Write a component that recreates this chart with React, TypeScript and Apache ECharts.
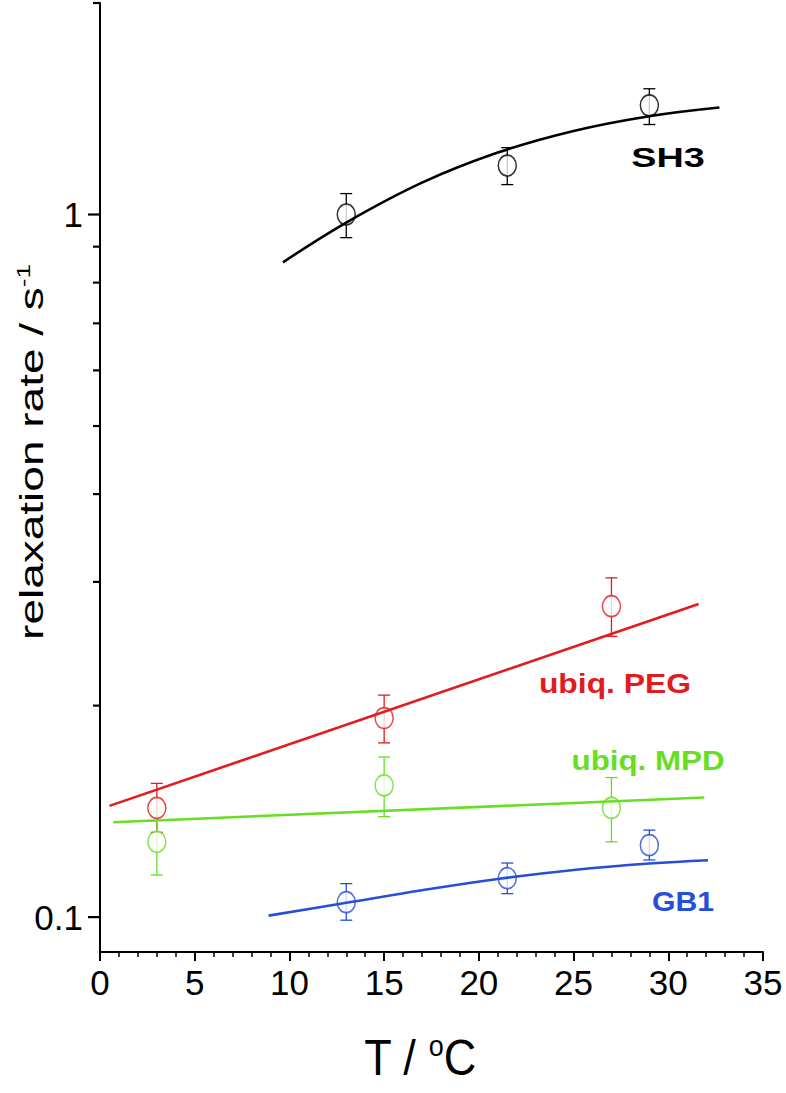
import React, { useEffect, useRef } from "react";
import * as echarts from "echarts";

// ---- data ----
const sh3T = [13, 21.5, 29];
const sh3R = [1.0, 1.174, 1.43];
const sh3Lo = [0.927, 1.103, 1.343];
const sh3Hi = [1.071, 1.245, 1.51];
const sh3FitT = [9.66, 13, 17, 21, 25, 29, 32.7];
const sh3FitR = [0.855, 0.974, 1.11, 1.225, 1.315, 1.38, 1.42];

const pegT = [3, 15, 27];
const pegR = [0.143, 0.192, 0.277];
const pegLo = [0.132, 0.177, 0.251];
const pegHi = [0.155, 0.207, 0.304];
const pegFitT = [0.5, 31.6];
const pegFitR = [0.144, 0.279];

const mpdT = [3, 15, 27];
const mpdR = [0.128, 0.154, 0.143];
const mpdLo = [0.1148, 0.139, 0.128];
const mpdHi = [0.141, 0.169, 0.158];
const mpdFitT = [0.7, 31.9];
const mpdFitR = [0.1365, 0.148];

const gb1T = [13, 21.5, 29];
const gb1R = [0.105, 0.1136, 0.1266];
const gb1Lo = [0.099, 0.108, 0.1206];
const gb1Hi = [0.1116, 0.1194, 0.133];
const gb1FitT = [8.9, 13, 17, 21, 25, 29, 32.1];
const gb1FitR = [0.1005, 0.1048, 0.1092, 0.1133, 0.1167, 0.1192, 0.1205];

const yMajorTicks = [0.1, 1];
const yMinorTicks = [0.2, 0.3, 0.4, 0.5, 0.6, 0.7, 0.8, 0.9, 2];

const COLORS = { sh3: "#000000", peg: "#e31b1e", mpd: "#66de22", gb1: "#274ed8" };

const FONT = '"Liberation Sans", Arial, sans-serif';
const ELLIPSE = "path://M0,-11A9,11 0 1,1 0,11A9,11 0 1,1 0,-11Z";

function pairs(t: number[], v: number[]) {
  return t.map((x, i) => [x, v[i]]);
}
function triples(t: number[], lo: number[], hi: number[]) {
  return t.map((x, i) => [x, lo[i], hi[i]]);
}

function groupSeries(name: string, color: string, t: number[], r: number[], lo: number[], hi: number[], fitT: number[], fitR: number[], smooth: boolean) {
  return [
    {
      name: name + " err",
      type: "custom",
      z: 2,
      clip: false,
      data: triples(t, lo, hi),
      encode: { x: 0, y: [1, 2] },
      renderItem: (params: any, api: any) => {
        const x = api.value(0);
        const top = api.coord([x, api.value(2)]);
        const bot = api.coord([x, api.value(1)]);
        const hw = 6;
        const style = { stroke: color, lineWidth: 1.3, fill: "none" };
        return {
          type: "group",
          children: [
            { type: "line", shape: { x1: top[0], y1: top[1], x2: bot[0], y2: bot[1] }, style },
            { type: "line", shape: { x1: top[0] - hw, y1: top[1], x2: top[0] + hw, y2: top[1] }, style },
            { type: "line", shape: { x1: bot[0] - hw, y1: bot[1], x2: bot[0] + hw, y2: bot[1] }, style },
          ],
        };
      },
    },
    {
      name: name,
      type: "scatter",
      z: 3,
      data: pairs(t, r),
      symbol: ELLIPSE,
      symbolSize: [18, 21],
      itemStyle: { color: "#ffffff", borderColor: color, borderWidth: 1.6 },
    },
    {
      name: name + " fit",
      type: "line",
      z: 4,
      data: pairs(fitT, fitR),
      showSymbol: false,
      symbol: "none",
      smooth: smooth ? 0.4 : false,
      lineStyle: { color, width: 2.6 },
    },
  ];
}

function yTickSeries(values: number[], len: number) {
  return {
    type: "custom",
    z: 5,
    clip: false,
    silent: true,
    data: values.map((v) => [0, v]),
    encode: { x: 0, y: 1 },
    renderItem: (params: any, api: any) => {
      const p = api.coord([api.value(0), api.value(1)]);
      return {
        type: "line",
        shape: { x1: p[0] - len, y1: p[1], x2: p[0], y2: p[1] },
        style: { stroke: "#000", lineWidth: 2.2 },
      };
    },
  };
}

export default function App() {
  const ref = useRef<HTMLDivElement>(null);
  useEffect(() => {
    if (!ref.current) return;
    const chart = echarts.init(ref.current, null, { renderer: "svg" });
    const labelStyle = { fontFamily: FONT, fontWeight: "bold", fontSize: 27 };
    chart.setOption({
      animation: false,
      backgroundColor: "#ffffff",
      grid: { left: 100, top: 3, width: 663, height: 949, containLabel: false },
      xAxis: {
        type: "value",
        min: 0,
        max: 35,
        interval: 5,
        axisLine: { show: true, lineStyle: { color: "#000", width: 2 } },
        axisTick: { show: true, inside: false, length: 9, lineStyle: { color: "#000", width: 2 } },
        minorTick: { show: true, splitNumber: 5, length: 5, lineStyle: { color: "#000", width: 1.5 } },
        splitLine: { show: false },
        minorSplitLine: { show: false },
        axisLabel: { fontSize: 35, fontFamily: FONT, color: "#000", margin: 13 },
      },
      yAxis: {
        type: "log",
        logBase: 10,
        min: 0.0892,
        max: 2.0,
        splitLine: { show: false },
        minorSplitLine: { show: false },
        axisLine: { show: true, lineStyle: { color: "#000", width: 2 } },
        axisTick: { show: false },
        axisLabel: {
          customValues: yMajorTicks,
          fontSize: 35,
          fontFamily: FONT,
          color: "#000",
          margin: 17,
          formatter: (v: number) => String(+(+v).toPrecision(3)),
        },
      },
      graphic: [
        {
          type: "text",
          x: 31,
          y: 452,
          rotation: Math.PI / 2,
          scaleY: 0.74,
          style: {
            text: "{a|relaxation rate / s}{b|-1}",
            align: "center",
            verticalAlign: "middle",
            fill: "#000",
            rich: {
              a: { fontSize: 46, fontFamily: FONT, fill: "#000" },
              b: { fontSize: 26, fontFamily: FONT, fill: "#000", verticalAlign: "top", padding: [0, 0, 22, 0] },
            },
          },
        },
        {
          type: "text",
          x: 420,
          y: 1058,
          scaleX: 0.9,
          style: {
            text: "{a|T / }{b|o}{a|C}",
            align: "center",
            verticalAlign: "middle",
            fill: "#000",
            rich: {
              a: { fontSize: 50, fontFamily: FONT, fill: "#000" },
              b: { fontSize: 30, fontFamily: FONT, fill: "#000", padding: [0, 0, 26, 0] },
            },
          },
        },
        { type: "text", x: 668, y: 158, scaleX: 1.4, style: { text: "SH3", ...labelStyle, fill: COLORS.sh3, align: "center", verticalAlign: "middle" } },
        { type: "text", x: 615, y: 683, scaleX: 1.18, style: { text: "ubiq. PEG", ...labelStyle, fill: COLORS.peg, align: "center", verticalAlign: "middle" } },
        { type: "text", x: 648, y: 761, scaleX: 1.16, style: { text: "ubiq. MPD", ...labelStyle, fill: COLORS.mpd, align: "center", verticalAlign: "middle" } },
        { type: "text", x: 683, y: 902, scaleX: 1.12, style: { text: "GB1", ...labelStyle, fill: COLORS.gb1, align: "center", verticalAlign: "middle" } },
      ],
      series: [
        yTickSeries(yMajorTicks, 12),
        yTickSeries(yMinorTicks, 7),
        ...groupSeries("SH3", COLORS.sh3, sh3T, sh3R, sh3Lo, sh3Hi, sh3FitT, sh3FitR, true),
        ...groupSeries("ubiq. PEG", COLORS.peg, pegT, pegR, pegLo, pegHi, pegFitT, pegFitR, false),
        ...groupSeries("ubiq. MPD", COLORS.mpd, mpdT, mpdR, mpdLo, mpdHi, mpdFitT, mpdFitR, false),
        ...groupSeries("GB1", COLORS.gb1, gb1T, gb1R, gb1Lo, gb1Hi, gb1FitT, gb1FitR, true),
      ],
    });
    return () => chart.dispose();
  }, []);
  return (
    <div
      ref={ref}
      style={{ position: "absolute", left: 0, top: 0, width: 786, height: 1093, background: "#fff" }}
    />
  );
}
